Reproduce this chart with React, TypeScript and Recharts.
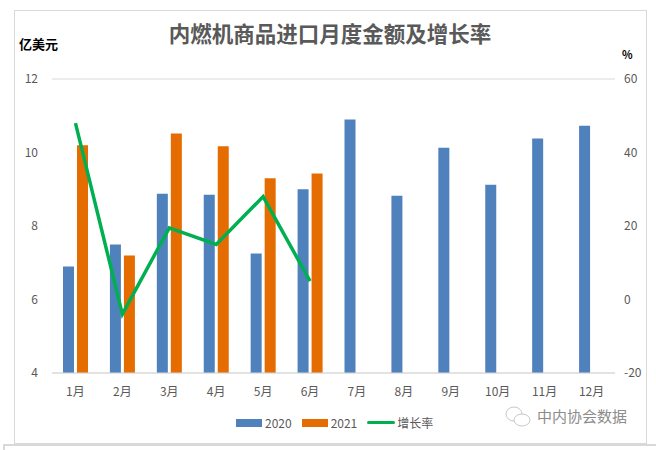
import {
  ComposedChart,
  Bar,
  Line,
  XAxis,
  YAxis,
  CartesianGrid,
  Legend,
} from 'recharts'

const months = ['1月', '2月', '3月', '4月', '5月', '6月', '7月', '8月', '9月', '10月', '11月', '12月']
const values2020 = [6.9, 7.5, 8.88, 8.85, 7.25, 9.0, 10.9, 8.82, 10.13, 9.12, 10.38, 10.73]
const values2021 = [10.2, 7.2, 10.52, 10.17, 9.3, 9.43]
const growth = [48, -4, 19.5, 15, 28, 5]
const leftTicks = [4, 6, 8, 10, 12]
const rightTicks = [-20, 0, 20, 40, 60]

const chartData = months.map((name, i) => ({
  name,
  y2020: values2020[i],
  y2021: values2021[i],
  growth: growth[i],
}))

const FONT = '"Noto Sans CJK SC", sans-serif'
const TICK = { fill: '#595959', fontSize: 12, fontFamily: FONT }

// Legend with the same sizes as the spreadsheet one
const ChartLegend = ({ payload }: any) => (
  <div style={{ display: 'flex', alignItems: 'center', fontFamily: FONT, fontSize: 12, color: '#595959' }}>
    {payload.map((entry: any) => (
      <div key={entry.value} style={{ display: 'flex', alignItems: 'center', marginRight: 10 }}>
        {entry.type === 'line' ? (
          <span style={{ width: 28, height: 3, borderRadius: 2, background: entry.color, marginRight: 2 }} />
        ) : (
          <span style={{ width: 26, height: 8, background: entry.color, marginRight: 3 }} />
        )}
        {entry.value}
      </div>
    ))}
  </div>
)

export default function App() {
  return (
    <div style={{ position: 'absolute', left: 0, top: 0, width: 656, height: 450, background: '#fff', overflow: 'hidden' }}>
      {/* Frame */}
      <div style={{ position: 'absolute', left: 14, top: 10, width: 631, height: 432, border: '1px solid #d9d9d9' }} />
      <div style={{ position: 'absolute', left: 3, top: 444, width: 653, height: 6, borderTop: '2px solid #d9d9d9', borderLeft: '2px solid #d9d9d9' }} />

      <ComposedChart
        width={656}
        height={450}
        data={chartData}
        barGap={3}
        barSize={11}
        margin={{ top: 79, right: 11, bottom: 30, left: 16 }}
        style={{ position: 'absolute', left: 0, top: 0 }}
      >
        <CartesianGrid vertical={false} stroke="#d9d9d9" />
        <XAxis
          dataKey="name"
          height={30}
          interval={0}
          tick={TICK}
          tickLine={false}
          axisLine={{ stroke: '#d9d9d9' }}
          tickMargin={8}
        />
        <YAxis
          yAxisId="left"
          width={36}
          domain={[4, 12]}
          ticks={leftTicks}
          tick={TICK}
          tickLine={false}
          axisLine={false}
          tickMargin={8}
        />
        <YAxis
          yAxisId="right"
          orientation="right"
          width={30}
          domain={[-20, 60]}
          ticks={rightTicks}
          tick={TICK}
          tickLine={false}
          axisLine={false}
          tickMargin={3}
        />
        <Legend
          content={<ChartLegend />}
          wrapperStyle={{ position: 'absolute', left: 236, top: 414, width: 220, bottom: 'auto' }}
        />
        <Bar yAxisId="left" dataKey="y2020" name="2020" fill="#4f81bd" isAnimationActive={false} />
        <Bar yAxisId="left" dataKey="y2021" name="2021" fill="#e46c00" isAnimationActive={false} />
        <Line
          yAxisId="right"
          dataKey="growth"
          name="增长率"
          type="linear"
          stroke="#00b050"
          strokeWidth={3.5}
          dot={false}
          connectNulls={false}
          isAnimationActive={false}
        />
        <text x={330} y={42} textAnchor="middle" fontFamily={FONT} fontSize={21.5} fontWeight={700} fill="#595959">
          内燃机商品进口月度金额及增长率
        </text>
        <text x={19} y={49} fontFamily={FONT} fontSize={13} fontWeight={700} fill="#000">
          亿美元
        </text>
        <text x={622} y={59} fontFamily={FONT} fontSize={11} fontWeight={700} fill="#000">
          %
        </text>
      </ComposedChart>

      {/* Watermark */}
      <svg width={30} height={26} style={{ position: 'absolute', left: 504, top: 404 }}>
        <ellipse cx={10} cy={10} rx={8} ry={7} fill="none" stroke="#c8c8c8" strokeWidth={1} />
        <ellipse cx={18} cy={16} rx={8} ry={6} fill="#fff" stroke="#c8c8c8" strokeWidth={1} />
      </svg>
      <div style={{ position: 'absolute', left: 537, top: 405, fontFamily: FONT, fontSize: 15, lineHeight: '22px', color: '#8c8c8c', whiteSpace: 'nowrap' }}>
        中内协会数据
      </div>
    </div>
  )
}
